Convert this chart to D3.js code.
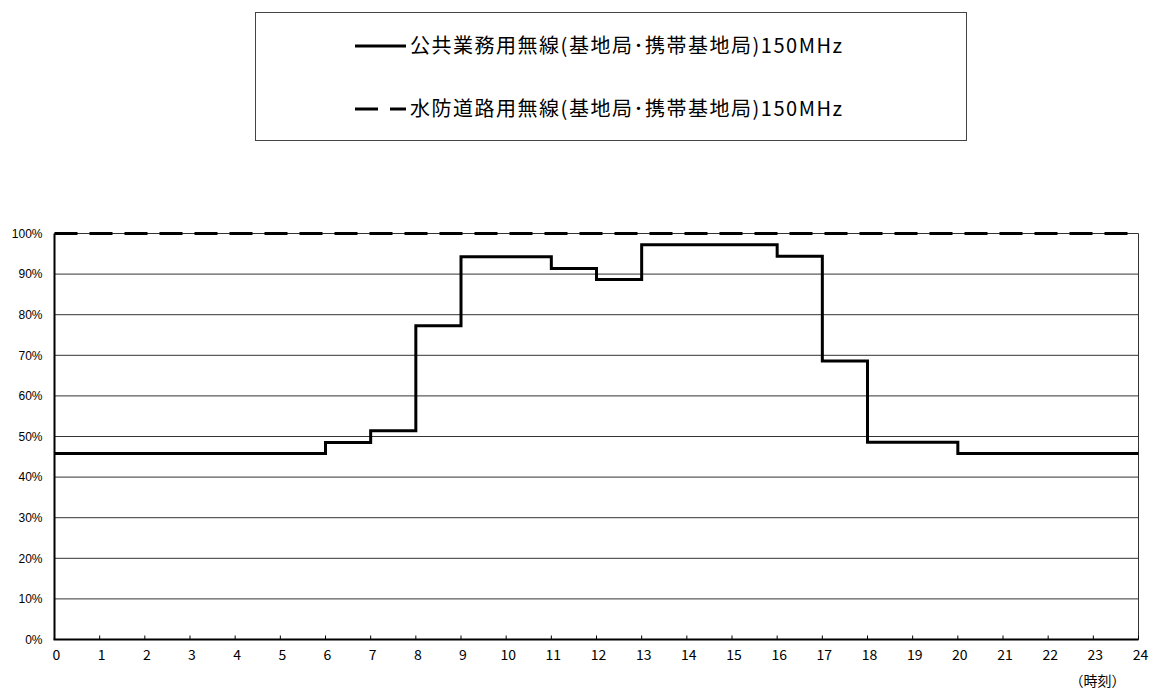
<!DOCTYPE html>
<html>
<head>
<meta charset="utf-8">
<script src="https://cdn.jsdelivr.net/npm/d3@7"></script>
<style>
  body { margin: 0; background: #fff; }
  svg { display: block; }
  .ylab { font-family: "Liberation Sans", Arial, sans-serif; font-size: 12px; }
  .xlab { font-family: "Noto Sans CJK JP", sans-serif; font-size: 14px; }
  .leg { font-family: "Noto Sans CJK JP", sans-serif; font-size: 20px; }
</style>
</head>
<body>
<div id="chart"></div>
<script>
const hours = d3.range(0, 25);
const publicRadio = [45.8, 45.8, 45.8, 45.8, 45.8, 45.8, 48.5, 51.4, 77.3, 94.3, 94.3, 91.4,
  88.7, 97.2, 97.2, 97.2, 94.4, 68.6, 48.6, 48.6, 45.8, 45.8, 45.8, 45.8];
const floodRadio = [100, 100, 100, 100, 100, 100, 100, 100, 100, 100, 100, 100,
  100, 100, 100, 100, 100, 100, 100, 100, 100, 100, 100, 100];
const yTicks = [0, 10, 20, 30, 40, 50, 60, 70, 80, 90, 100];
const seriesNames = [
  "公共業務用無線(基地局･携帯基地局)150MHz",
  "水防道路用無線(基地局･携帯基地局)150MHz"
];

const width = 1149, height = 691;
const margin = { top: 233.5, right: 10.5, bottom: 51.5, left: 54.5 };
const w = width - margin.left - margin.right;
const h = height - margin.top - margin.bottom;

const root = d3.select("#chart").append("svg")
  .attr("width", width)
  .attr("height", height);

const svg = root.append("g")
  .attr("transform", `translate(${margin.left},${margin.top})`);

const x = d3.scaleLinear().domain([0, 24]).range([0, w]);
const y = d3.scaleLinear().domain([0, 100]).range([h, 0]);

// gridlines
svg.selectAll(".grid")
  .data(yTicks.filter(d => d > 0))
  .enter()
  .append("line")
  .attr("class", "grid")
  .attr("x1", 0).attr("x2", w)
  .attr("y1", d => y(d)).attr("y2", d => y(d))
  .attr("stroke", "#333")
  .attr("stroke-width", 1);

// right border
svg.append("line")
  .attr("x1", w).attr("x2", w).attr("y1", 0).attr("y2", h)
  .attr("stroke", "#333").attr("stroke-width", 1);

// y labels
svg.selectAll(".ylab")
  .data(yTicks)
  .enter()
  .append("text")
  .attr("class", "ylab")
  .attr("x", -12)
  .attr("y", d => y(d))
  .attr("dy", "0.35em")
  .attr("text-anchor", "end")
  .text(d => d + "%");

// x ticks (pointing up)
svg.selectAll(".xtick")
  .data(hours)
  .enter()
  .append("line")
  .attr("x1", d => x(d)).attr("x2", d => x(d))
  .attr("y1", h).attr("y2", h - 4)
  .attr("stroke", "#000").attr("stroke-width", 1);

svg.selectAll(".xlab")
  .data(hours)
  .enter()
  .append("text")
  .attr("class", "xlab")
  .attr("x", d => x(d) + 2)
  .attr("y", h + 15.5)
  .attr("dy", "0.35em")
  .attr("text-anchor", "middle")
  .text(d => d);

svg.append("text")
  .attr("class", "xlab")
  .attr("x", x(24) - 13)
  .attr("y", h + 41.5)
  .attr("dy", "0.35em")
  .attr("text-anchor", "end")
  .text("（時刻）");

// lines
const step = d3.line()
  .x((d, i) => x(i))
  .y(d => y(d))
  .curve(d3.curveStepAfter);

svg.append("path")
  .datum(floodRadio.concat([floodRadio[floodRadio.length - 1]]))
  .attr("d", step)
  .attr("fill", "none")
  .attr("stroke", "#000")
  .attr("stroke-width", 3)
  .attr("stroke-dasharray", "23,12");

svg.append("path")
  .datum(publicRadio.concat([publicRadio[publicRadio.length - 1]]))
  .attr("d", step)
  .attr("fill", "none")
  .attr("stroke", "#000")
  .attr("stroke-width", 3)
  .attr("stroke-linejoin", "miter");

// axes
svg.append("line")
  .attr("x1", 0).attr("x2", 0).attr("y1", 0).attr("y2", h)
  .attr("stroke", "#000").attr("stroke-width", 2);
svg.append("line")
  .attr("x1", -1).attr("x2", w).attr("y1", h).attr("y2", h)
  .attr("stroke", "#000").attr("stroke-width", 2);

// legend
const legend = root.append("g");
legend.append("rect")
  .attr("x", 255.5).attr("y", 12.5)
  .attr("width", 711).attr("height", 128)
  .attr("fill", "#fff")
  .attr("stroke", "#444")
  .attr("stroke-width", 1);

const legY = [46, 109];
seriesNames.forEach((name, i) => {
  legend.append("line")
    .attr("x1", 355).attr("x2", 406)
    .attr("y1", legY[i]).attr("y2", legY[i])
    .attr("stroke", "#000")
    .attr("stroke-width", 3)
    .attr("stroke-dasharray", i === 1 ? "23,12" : null);
  legend.append("text")
    .attr("class", "leg")
    .attr("x", 410)
    .attr("y", legY[i])
    .attr("dy", "0.35em")
    .attr("textLength", 432)
    .attr("lengthAdjust", "spacing")
    .text(name);
});
</script>
</body>
</html>
